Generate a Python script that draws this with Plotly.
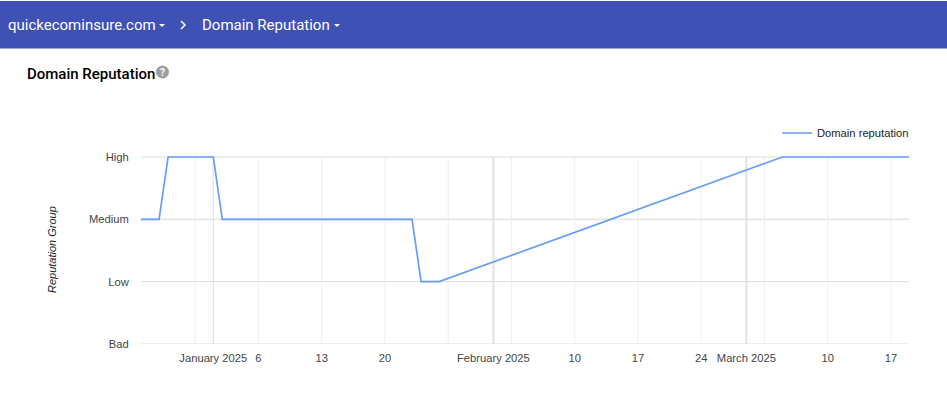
import plotly.graph_objects as go

# ---- data ----
DATES = ["2024-12-24", "2024-12-26", "2024-12-27", "2025-01-01", "2025-01-02",
         "2025-01-23", "2025-01-24", "2025-01-26", "2025-03-05", "2025-03-19"]
REPUTATION = ["Medium", "Medium", "High", "High", "Medium",
              "Medium", "Low", "Low", "High", "High"]
LEVELS = ["Bad", "Low", "Medium", "High"]
SERIES_NAME = "Domain reputation"
TICK_DATES = ["2024-12-30", "2025-01-01", "2025-01-06", "2025-01-13", "2025-01-20", "2025-01-27",
              "2025-02-01", "2025-02-03", "2025-02-10", "2025-02-17", "2025-02-24",
              "2025-03-01", "2025-03-03", "2025-03-10", "2025-03-17"]
TICK_LABELS = ["", "January 2025", "6", "13", "20", "",
               "February 2025", "", "10", "17", "24",
               "March 2025", "", "10", "17"]
MONTH_STARTS = ["2025-01-01", "2025-02-01", "2025-03-01"]
MONTH_GRID = [("#dddddd", 1), ("#e2e2e2", 2), ("#e2e2e2", 2)]
LEVEL_GRID = [("#dddddd", 1), ("#dddddd", 1), ("#e8e8e8", 2), ("#eeeeee", 2)]
X_RANGE = ["2024-12-24", "2025-03-19"]

W, H = 947, 394
CHART_FONT = "Liberation Sans, Arial, sans-serif"
UI_FONT = "Roboto, sans-serif"
HEADER = "#3f51b5"
TICK_SIZE = 11.2
TOP_HEADROOM = 0.048  # axis units kept above "High" so the line is not clipped


def px(x):
    return x / W


def py(y):
    return 1 - y / H


fig = go.Figure(go.Scatter(
    x=DATES, y=[LEVELS.index(v) for v in REPUTATION], mode="lines", name=SERIES_NAME,
    line=dict(color="#669df6", width=1.7), showlegend=True, hoverinfo="x+text",
    text=REPUTATION, cliponaxis=False,
))

shapes = [
    dict(type="rect", xref="paper", yref="paper", x0=0, x1=1, y0=py(1), y1=py(48.5),
         fillcolor=HEADER, line_width=0, layer="below"),
    # carets and chevron in the header
    dict(type="path", xref="paper", yref="paper", fillcolor="white", line_width=0,
         path=f"M{px(159)},{py(24)} L{px(165)},{py(24)} L{px(162)},{py(27)} Z"),
    dict(type="path", xref="paper", yref="paper", fillcolor="white", line_width=0,
         path=f"M{px(334)},{py(24)} L{px(340)},{py(24)} L{px(337)},{py(27)} Z"),
    dict(type="path", xref="paper", yref="paper", line=dict(color="white", width=1.5),
         path=f"M{px(181)},{py(21)} L{px(185)},{py(25)} L{px(181)},{py(29)}"),
    # help icon
    dict(type="circle", xref="paper", yref="paper", x0=px(156), x1=px(169), y0=py(78.5), y1=py(65.5),
         fillcolor="#9e9e9e", line_width=0),
]
for d in TICK_DATES:
    if d not in MONTH_STARTS:
        shapes.append(dict(type="line", xref="x", yref="y", x0=d, x1=d, y0=0, y1=3,
                           line=dict(color="#eeeeee", width=1), layer="below"))
for m, (color, width) in zip(MONTH_STARTS, MONTH_GRID):
    shapes.append(dict(type="line", xref="x", yref="y", x0=m, x1=m, y0=0, y1=3,
                       line=dict(color=color, width=width), layer="below"))
for i, (color, width) in enumerate(LEVEL_GRID):
    shapes.append(dict(type="line", xref="paper", yref="y", x0=px(141), x1=px(909), y0=i, y1=i,
                       line=dict(color=color, width=width), layer="below"))

annotations = [
    dict(text="quickecominsure.com", x=px(6), y=py(25), font=dict(family=UI_FONT, size=15, color="white")),
    dict(text="Domain Reputation", x=px(200), y=py(25), font=dict(family=UI_FONT, size=15, color="white")),
    dict(text="Domain Reputation", x=px(25), y=py(74), font=dict(family=UI_FONT, size=15, color="black", weight=500)),
    dict(text="?", x=px(162.5), y=py(72), xanchor="center", font=dict(family=UI_FONT, size=10, weight=700, color="white")),
    dict(text="<i>Reputation Group</i>", x=px(52), y=py(250), textangle=-90, xanchor="center",
         font=dict(family=CHART_FONT, size=11, color="#222222")),
]
for a in annotations:
    a.setdefault("xanchor", "left")
    a.update(xref="paper", yref="paper", showarrow=False, yanchor="middle")

fig.update_layout(
    width=W, height=H, autosize=False,
    margin=dict(l=0, r=0, t=0, b=0, autoexpand=False),
    paper_bgcolor="white", plot_bgcolor="rgba(0,0,0,0)",
    shapes=shapes, annotations=annotations,
    font=dict(family=CHART_FONT, size=TICK_SIZE, color="#444444"),
    legend=dict(x=px(914), y=py(133), xanchor="right", yanchor="middle", bgcolor="rgba(0,0,0,0)",
                font=dict(family=CHART_FONT, size=TICK_SIZE, color="#222222"), itemwidth=30),
    xaxis=dict(domain=[px(141), px(909)], range=X_RANGE, type="date",
               tickmode="array", tickvals=TICK_DATES, ticktext=TICK_LABELS,
               showgrid=False, zeroline=False,
               showline=False, ticks="outside", ticklen=4, tickcolor="rgba(0,0,0,0)",
               tickfont=dict(family=CHART_FONT, size=TICK_SIZE, color="#444444")),
    yaxis=dict(domain=[py(344), py(157 - TOP_HEADROOM * 187 / 3)], range=[0, 3 + TOP_HEADROOM], tickmode="array",
               tickvals=list(range(len(LEVELS))), ticktext=LEVELS,
               showgrid=False, zeroline=False, showline=False,
               ticks="outside", ticklen=9, tickcolor="rgba(0,0,0,0)",
               tickfont=dict(family=CHART_FONT, size=TICK_SIZE, color="#444444")),
)

fig.write_html("out.html", config=dict(displayModeBar=False),
               post_script="document.body.style.margin='0';")
